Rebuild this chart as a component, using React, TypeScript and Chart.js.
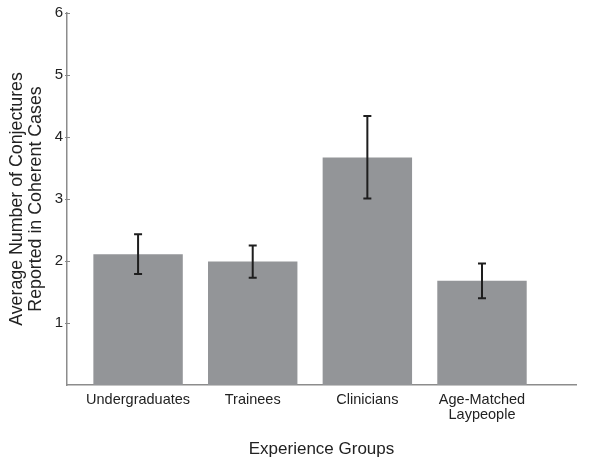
import React, { useEffect, useRef } from "react";
import { Chart, registerables } from "chart.js";

Chart.register(...registerables);

const categories: (string | string[])[] = [
  "Undergraduates",
  "Trainees",
  "Clinicians",
  ["Age-Matched", "Laypeople"],
];
const positions = [1, 2, 3, 4];
const means = [2.11, 1.99, 3.67, 1.68];
const errLow = [1.79, 1.73, 3.01, 1.4];
const errHigh = [2.43, 2.25, 4.34, 1.96];
const yTicks = [1, 2, 3, 4, 5, 6];

const FONT = "'Liberation Sans', Arial, Helvetica, sans-serif";

const errorBarPlugin = {
  id: "errorBars",
  afterDatasetsDraw(chart: any) {
    const { ctx, scales } = chart;
    const xs = scales.x;
    const ys = scales.y;
    ctx.save();
    ctx.strokeStyle = "#1e1e1e";
    ctx.lineWidth = 2;
    positions.forEach((p, i) => {
      const x = xs.getPixelForValue(p);
      const yt = ys.getPixelForValue(errHigh[i]);
      const yb = ys.getPixelForValue(errLow[i]);
      ctx.beginPath();
      ctx.moveTo(x, yt);
      ctx.lineTo(x, yb);
      ctx.moveTo(x - 4, yt);
      ctx.lineTo(x + 4, yt);
      ctx.moveTo(x - 4, yb);
      ctx.lineTo(x + 4, yb);
      ctx.stroke();
    });
    ctx.strokeStyle = "#888";
    ctx.lineWidth = 1;
    yTicks.forEach((t) => {
      const y = Math.round(ys.getPixelForValue(t)) + 0.5;
      ctx.beginPath();
      ctx.moveTo(xs.left - 2, y);
      ctx.lineTo(xs.left + 3, y);
      ctx.stroke();
    });
    ctx.restore();
  },
};

export default function App() {
  const ref = useRef<HTMLCanvasElement>(null);
  useEffect(() => {
    if (!ref.current) return;
    const chart = new Chart(ref.current, {
      type: "bar",
      data: {
        datasets: [
          {
            data: positions.map((p, i) => ({ x: p, y: means[i] })),
            backgroundColor: "#939598",
            borderWidth: 0,
            barPercentage: 0.78,
            categoryPercentage: 1,
          },
        ],
      },
      options: {
        animation: false,
        responsive: false,
        maintainAspectRatio: false,
        layout: { padding: { top: 10, right: 24, bottom: 0, left: 0 } },
        plugins: {
          legend: { display: false },
          tooltip: { enabled: false },
        },
        scales: {
          x: {
            type: "linear",
            offset: false,
            min: 0.38,
            max: 4.82,
            afterBuildTicks: (scale: any) => {
              scale.ticks = positions.map((v) => ({ value: v }));
            },
            afterFit: (scale: any) => {
              scale.height = 75;
            },
            ticks: {
              autoSkip: false,
              maxRotation: 0,
              color: "#222",
              font: { family: FONT, size: 14.5, lineHeight: 1.05 },
              padding: 7,
              callback: (v: any) => {
                const idx = positions.indexOf(Number(v));
                return idx >= 0 ? categories[idx] : "";
              },
            },
            grid: { display: false, drawTicks: false, offset: false },
            border: { display: true, color: "#8c8c8c", width: 1.5 },
            title: {
              display: true,
              text: "Experience Groups",
              color: "#222",
              font: { family: FONT, size: 17 },
              padding: { top: 14, bottom: 0 },
            },
          },
          y: {
            min: 0,
            max: 6,
            afterBuildTicks: (scale: any) => {
              scale.ticks = [0, ...yTicks].map((v) => ({ value: v }));
            },
            afterFit: (scale: any) => {
              scale.width = 67;
            },
            ticks: {
              color: "#222",
              font: { family: FONT, size: 15 },
              padding: 4,
              callback: (v: any) => (Number(v) === 0 ? "" : String(v)),
            },
            grid: { display: false, drawTicks: false },
            border: { display: true, color: "#8c8c8c", width: 1.5 },
            title: {
              display: true,
              text: ["Average Number of Conjectures", "Reported in Coherent Cases"],
              color: "#222",
              font: { family: FONT, size: 17.8, lineHeight: 1.05 },
              padding: { top: 8, bottom: 4 },
            },
          },
        },
      },
      plugins: [errorBarPlugin],
    });
    return () => chart.destroy();
  }, []);
  return (
    <div style={{ position: "absolute", left: 0, top: 0, width: 600, height: 460, background: "#fff" }}>
      <canvas ref={ref} width={600} height={460} style={{ width: 600, height: 460 }} />
    </div>
  );
}
